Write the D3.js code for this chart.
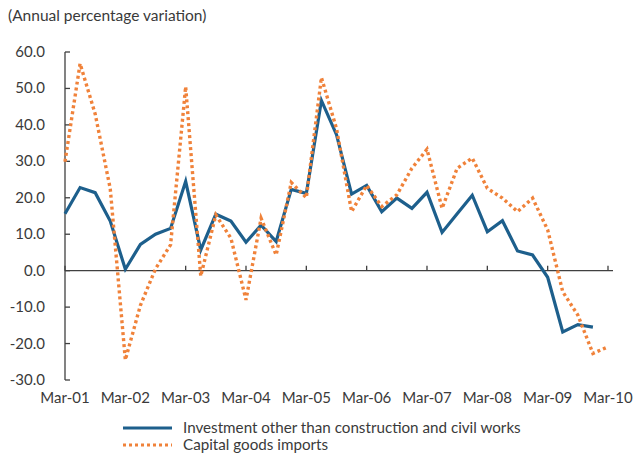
<!DOCTYPE html>
<html>
<head>
<meta charset="utf-8">
<script src="https://cdn.jsdelivr.net/npm/d3@7"></script>
<style>
  body { margin: 0; background: #fff; }
  text { font-family: "Lato", "Open Sans", sans-serif; fill: #3a3a3a; }
</style>
</head>
<body>
<div id="chart"></div>
<script>
// quarterly data, Mar-01 .. Mar-10
const yearLabels = ["Mar-01","Mar-02","Mar-03","Mar-04","Mar-05","Mar-06","Mar-07","Mar-08","Mar-09","Mar-10"];
const yTicks = [60, 50, 40, 30, 20, 10, 0, -10, -20, -30];

const investment = [15.6, 22.8, 21.4, 13.6, 0.4, 7.2, 10.0, 11.6, 24.5, 5.7,
  15.5, 13.6, 7.8, 12.5, 8.0, 22.3, 21.2, 46.7, 37.3, 21.0,
  23.4, 16.2, 19.9, 17.1, 21.5, 10.5, 15.6, 20.7, 10.7, 13.7,
  5.4, 4.3, -1.8, -16.8, -14.8, -15.5];

const capitalImports = [29.9, 56.8, 43.0, 22.5, -24.5, -9.5, 0.5, 7.1, 50.5, -1.5,
  15.3, 8.9, -8.0, 14.4, 4.3, 24.2, 20.0, 53.0, 39.0, 16.2,
  23.4, 17.6, 20.8, 28.1, 33.3, 17.1, 28.1, 30.9, 22.6, 19.9,
  16.2, 19.9, 11.2, -5.8, -12.2, -22.7, -20.9];

const width = 634, height = 458;
const margin = {left: 65, right: 26, top: 52, bottom: 78};

const svg = d3.select("#chart").append("svg")
  .attr("width", width)
  .attr("height", height);

const x = d3.scaleLinear()
  .domain([0, 36])
  .range([margin.left, width - margin.right]);

const y = d3.scaleLinear()
  .domain([-30, 60])
  .range([height - margin.bottom, margin.top]);

// title
svg.append("text")
  .attr("x", 8)
  .attr("y", 21)
  .attr("font-size", "15.5px")
  .text("(Annual percentage variation)");

// y axis
svg.append("line")
  .attr("x1", x(0)).attr("x2", x(0))
  .attr("y1", y(60)).attr("y2", y(-30))
  .attr("stroke", "#404040").attr("stroke-width", 1.3);

svg.selectAll(".ytick").data(yTicks).enter().append("line")
  .attr("x1", x(0)).attr("x2", x(0) + 5)
  .attr("y1", d => y(d)).attr("y2", d => y(d))
  .attr("stroke", "#404040").attr("stroke-width", 1.3);

svg.selectAll(".ylab").data(yTicks).enter().append("text")
  .attr("x", 45)
  .attr("y", d => y(d) + 5)
  .attr("text-anchor", "end")
  .attr("font-size", "15px")
  .text(d => d.toFixed(1));

// x axis on zero
svg.append("line")
  .attr("x1", x(0)).attr("x2", x(36) + 5)
  .attr("y1", y(0)).attr("y2", y(0))
  .attr("stroke", "#404040").attr("stroke-width", 1.3);

svg.selectAll(".xtick").data(yearLabels).enter().append("line")
  .attr("x1", (d, i) => x(i * 4)).attr("x2", (d, i) => x(i * 4))
  .attr("y1", y(0)).attr("y2", y(0) - 5)
  .attr("stroke", "#404040").attr("stroke-width", 1.3);

svg.selectAll(".xlab").data(yearLabels).enter().append("text")
  .attr("x", (d, i) => x(i * 4))
  .attr("y", 403)
  .attr("text-anchor", "middle")
  .attr("font-size", "15px")
  .text(d => d);

// lines
const line = d3.line()
  .x((d, i) => x(i))
  .y(d => y(d));

svg.append("path")
  .datum(investment)
  .attr("d", line)
  .attr("fill", "none")
  .attr("stroke", "#1d5f8c")
  .attr("stroke-width", 3.2)
  .attr("stroke-linejoin", "miter");

svg.append("path")
  .datum(capitalImports)
  .attr("d", line)
  .attr("fill", "none")
  .attr("stroke", "#f0823a")
  .attr("stroke-width", 3.4)
  .attr("stroke-dasharray", "3,3");

// legend
const legend = [
  {name: "Investment other than construction and civil works", color: "#1d5f8c", dash: null},
  {name: "Capital goods imports", color: "#f0823a", dash: "3,3"}
];

const lg = svg.selectAll(".legend").data(legend).enter().append("g")
  .attr("transform", (d, i) => `translate(123, ${428 + i * 17})`);

lg.append("line")
  .attr("x1", 0).attr("x2", 49)
  .attr("y1", 0).attr("y2", 0)
  .attr("stroke", d => d.color)
  .attr("stroke-width", 3)
  .attr("stroke-dasharray", d => d.dash);

lg.append("text")
  .attr("x", 60)
  .attr("y", 5)
  .attr("font-size", "15.2px")
  .text(d => d.name);
</script>
</body>
</html>
